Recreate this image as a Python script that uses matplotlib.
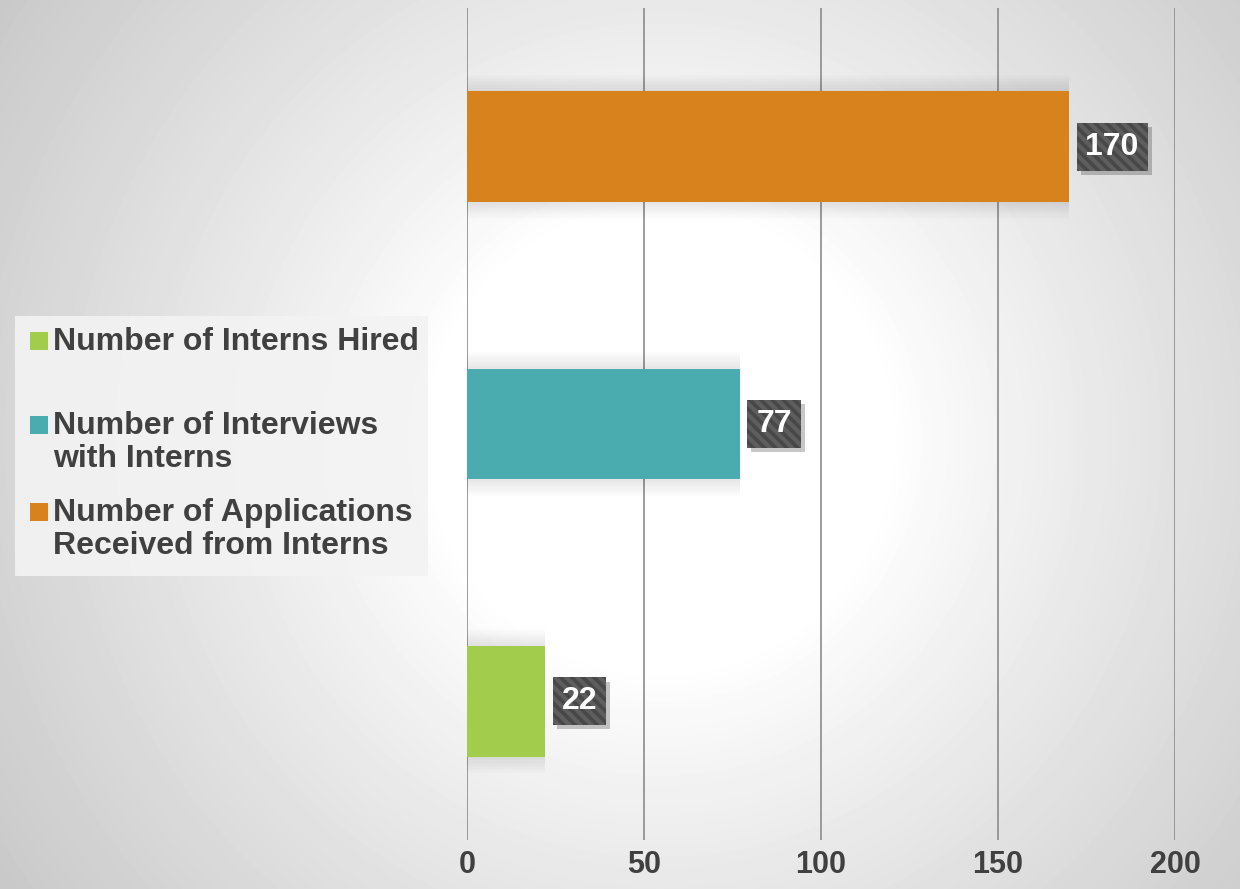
import matplotlib.pyplot as plt
import numpy as np
from matplotlib import font_manager
from matplotlib import patheffects
from matplotlib.patches import Rectangle

# pick the regular-width Liberation Sans (not the Narrow one)
bold_file = None
for f in font_manager.fontManager.ttflist:
    if f.name == 'Liberation Sans' and f.weight == 700 and f.style == 'normal' \
            and 'Narrow' not in f.fname:
        bold_file = f.fname
        break
fp = font_manager.FontProperties(fname=bold_file) if bold_file else \
    font_manager.FontProperties(family='Liberation Sans', weight='bold')

plt.rcParams['hatch.linewidth'] = 3.0


class FlatShadow(patheffects.SimplePatchShadow):
    # shadow without the hatch of the box
    def draw_path(self, renderer, gc, tpath, affine, rgbFace):
        gc0 = renderer.new_gc()
        gc0.copy_properties(gc)
        gc0.set_hatch(None)
        super().draw_path(renderer, gc0, tpath, affine, rgbFace)


# data (bottom to top)
categories = ['Number of Interns Hired',
              'Number of Interviews\nwith Interns',
              'Number of Applications\nReceived from Interns']
values = [22, 77, 170]
bar_colors = ['#a2cc4c', '#4bacb0', '#d8821e']
xticks = [0, 50, 100, 150, 200]

W, H = 1240, 889
fig = plt.figure(figsize=(W / 100, H / 100), dpi=100)

def fx(px):
    return px / W

def fy(py):
    return 1 - py / H

# radial gradient background, white plateau in the middle
bg = fig.add_axes([0, 0, 1, 1], zorder=-10)
yy, xx = np.mgrid[0:H, 0:W]
r = np.sqrt((xx - 660) ** 2 + (yy - 440) ** 2)
shade = 1.0 - 0.21 * np.clip((r - 230) / 560, 0, 1) ** 0.9
bg.imshow(shade, cmap='gray', vmin=0, vmax=1, aspect='auto', interpolation='bilinear')
bg.axis('off')

# main axes
ax = fig.add_axes([fx(467), fy(840), fx(1175) - fx(467), fy(8) - fy(840)])
ax.patch.set_alpha(0)
y = np.arange(len(values))

# soft shadow behind bars
for k in np.linspace(0.52, 0.41, 8):
    ax.barh(y, values, height=k, color='black', alpha=0.012, linewidth=0, zorder=1)
ax.barh(y, values, height=0.4, color=bar_colors, linewidth=0, zorder=3)

for yi, v in zip(y, values):
    ann = ax.annotate(str(v), (v, yi), xytext=(12, 0), textcoords='offset points',
                      ha='left', va='center', fontproperties=fp, fontsize=23, color='white',
                      bbox=dict(boxstyle='square,pad=0.28', facecolor='#484848',
                                edgecolor='#5e5e5e', hatch='\\\\\\', linewidth=0), zorder=5)
    ann.get_bbox_patch().set_path_effects([
        FlatShadow(offset=(3, -3), shadow_rgbFace='black', alpha=0.22),
        patheffects.Normal()])

ax.set_xlim(0, 200)
ax.set_ylim(-0.5, 2.5)
ax.set_xticks(xticks)
ax.set_xticklabels([str(t) for t in xticks], fontproperties=fp, fontsize=22, color='#404040')
ax.set_yticks([])
ax.tick_params(axis='x', length=0, pad=7)
ax.grid(axis='x', color='#8c8c8c', linewidth=1.2, zorder=0)
ax.set_axisbelow(True)
for s in ax.spines.values():
    s.set_visible(False)

# legend drawn by hand, same order as the bars (bottom bar first)
fig.patches.append(Rectangle((fx(15), fy(576)), fx(428) - fx(15), fy(316) - fy(576),
                             transform=fig.transFigure, facecolor='#f3f3f3', alpha=0.9,
                             linewidth=0, zorder=1))
leg_top = [341, 425, 512]
for lab, col, ty in zip(categories, bar_colors, leg_top):
    fig.patches.append(Rectangle((fx(30), fy(ty + 9)), fx(18), fy(ty - 9) - fy(ty + 9),
                                 transform=fig.transFigure, facecolor=col, linewidth=0,
                                 zorder=2))
    fig.text(fx(53), fy(ty - 14), lab, ha='left', va='top', fontproperties=fp, fontsize=23,
             color='#404040', linespacing=1.12, zorder=3)

fig.savefig('out.png', dpi=100)
